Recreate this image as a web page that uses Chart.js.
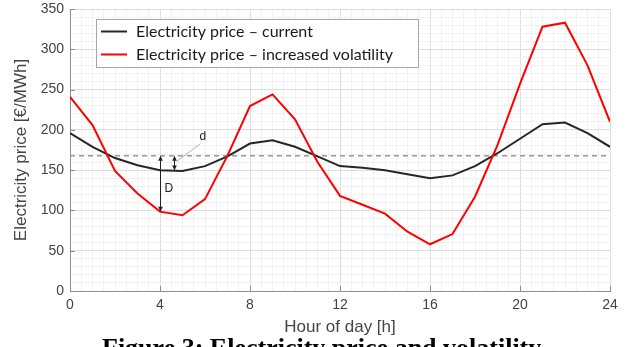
<!DOCTYPE html>
<html>
<head>
<meta charset="utf-8">
<script src="https://cdn.jsdelivr.net/npm/chart.js@4"></script>
<style>
html,body{margin:0;padding:0;background:#fff;}
#wrap{width:633px;height:347px;position:relative;overflow:hidden;}
</style>
</head>
<body>
<div id="wrap"><canvas id="c" width="633" height="347"></canvas></div>
<script>
// ---- data ----
const hours = [0,1,2,3,4,5,6,7,8,9,10,11,12,13,14,15,16,17,18,19,20,21,22,23,24];
const priceCurrent = [196,179,165,156,150,149,155,167,183,187,179,167,155,153,150,145,140,143.5,155,171,189,207,209,196,179];
const priceVolatile = [241,206,149,121,98.5,94,114,168,229.5,244,213,160,118,107,96,73.6,58,70.7,117,181,257,328,333,280,210];
const refLevel = 168;
const seriesNames = ['Electricity price \u2013 current','Electricity price \u2013 increased volatility'];
const xTickLabels = [0,4,8,12,16,20,24];
const yTickLabels = [0,50,100,150,200,250,300,350];
const gapMarks = [
  {label:'D', hour:4.0, from:refLevel, to:98.5},
  {label:'d', hour:4.6, from:refLevel, to:149.5}
];
const captionText = 'Figure 3: Electricity price and volatility';

const toXY = (xs, ys) => xs.map((x,i)=>({x:x, y:ys[i]}));

function drawArrowHead(ctx, x, y, dir){ // dir: +1 pointing down, -1 pointing up
  ctx.beginPath();
  ctx.moveTo(x, y);
  ctx.lineTo(x-2.3, y - dir*5);
  ctx.lineTo(x+2.3, y - dir*5);
  ctx.closePath();
  ctx.fill();
}

const decorPlugin = {
  id:'decor',
  afterDatasetsDraw(chart){
    const ctx = chart.ctx, xs = chart.scales.x, ys = chart.scales.y, a = chart.chartArea;
    ctx.save();
    // inward tick marks on axes
    ctx.strokeStyle = '#8a8a8a'; ctx.lineWidth = 1;
    xTickLabels.forEach(v=>{
      const px = Math.round(xs.getPixelForValue(v))+0.5;
      ctx.beginPath(); ctx.moveTo(px, a.bottom); ctx.lineTo(px, a.bottom-5); ctx.stroke();
    });
    yTickLabels.forEach(v=>{
      const py = Math.round(ys.getPixelForValue(v))+0.5;
      ctx.beginPath(); ctx.moveTo(a.left, py); ctx.lineTo(a.left+5, py); ctx.stroke();
    });
    // gap arrows
    ctx.strokeStyle = '#222'; ctx.fillStyle = '#222'; ctx.lineWidth = 1;
    gapMarks.forEach(m=>{
      const px = Math.round(xs.getPixelForValue(m.hour))+0.5;
      const y1 = ys.getPixelForValue(m.from), y2 = ys.getPixelForValue(m.to);
      ctx.beginPath(); ctx.moveTo(px, y1+2); ctx.lineTo(px, y2-2); ctx.stroke();
      drawArrowHead(ctx, px, y1, -1);
      drawArrowHead(ctx, px, y2, 1);
      ctx.font = '12px "Liberation Sans", Arial, sans-serif';
      ctx.textBaseline = 'middle'; ctx.textAlign = 'left';
      if (m.label === 'D') {
        ctx.fillText(m.label, px+4, (y1+y2)/2 + 5);
      } else {
        ctx.strokeStyle = '#b0b0b0';
        ctx.beginPath(); ctx.moveTo(px+2, y1+6); ctx.lineTo(px+26, y1-12); ctx.stroke();
        ctx.fillText(m.label, px+25, y1-19);
        ctx.strokeStyle = '#222';
      }
    });
    // legend box
    const lx = 96.5, ly = 19.5, lw = 322, lh = 48;
    ctx.fillStyle = '#fff'; ctx.fillRect(lx, ly, lw, lh);
    ctx.strokeStyle = '#a6a6a6'; ctx.lineWidth = 1; ctx.strokeRect(lx, ly, lw, lh);
    const ds = chart.data.datasets;
    const rows = [31.5, 54.5];
    ctx.font = '16px Lato, "Open Sans", sans-serif';
    ctx.textBaseline = 'middle'; ctx.textAlign = 'left';
    [0,1].forEach(i=>{
      ctx.strokeStyle = ds[i].borderColor; ctx.lineWidth = 2;
      ctx.beginPath(); ctx.moveTo(101, rows[i]); ctx.lineTo(127, rows[i]); ctx.stroke();
      ctx.fillStyle = '#1a1a1a';
      ctx.fillText(ds[i].label, 136, rows[i]+0.5);
    });
    ctx.restore();
  },
  afterDraw(chart){
    const ctx = chart.ctx;
    ctx.save();
    ctx.font = 'bold 26px "Liberation Serif", "Times New Roman", serif';
    ctx.fillStyle = '#000'; ctx.textAlign = 'left'; ctx.textBaseline = 'alphabetic';
    ctx.fillText(captionText, 102, 356);
    ctx.restore();
  }
};

const axisFont = {family:'"Liberation Sans", Arial, sans-serif', size:14};
const titleFont = {family:'"Liberation Sans", Arial, sans-serif', size:17};

new Chart(document.getElementById('c').getContext('2d'), {
  type:'line',
  data:{
    datasets:[
      {label:seriesNames[0], data:toXY(hours, priceCurrent), borderColor:'#262626', borderWidth:2, pointRadius:0, tension:0, order:1},
      {label:seriesNames[1], data:toXY(hours, priceVolatile), borderColor:'#ff0000', borderWidth:2, pointRadius:0, tension:0, order:0},
      {label:'reference', data:toXY([hours[0], hours[hours.length-1]], [refLevel, refLevel]), borderColor:'#999999', borderWidth:1.5, borderDash:[5,4], pointRadius:0, order:2}
    ]
  },
  options:{
    responsive:false, animation:false, devicePixelRatio:1,
    layout:{padding:{top:9, right:23, left:0, bottom:0}},
    plugins:{legend:{display:false}, tooltip:{enabled:false}},
    scales:{
      x:{
        type:'linear', min:0, max:24,
        afterFit(s){ s.height = 56; s.paddingLeft = 0; s.paddingRight = 0; },
        ticks:{stepSize:0.5, autoSkip:false, maxRotation:0, padding:6, color:'#444', font:axisFont,
          callback:(v)=> xTickLabels.includes(v) ? String(v) : ''},
        grid:{drawTicks:false, color:(c)=> (c.tick && xTickLabels.includes(c.tick.value)) ? '#dedede' : '#f1f1f1'},
        border:{display:true, color:'#8f8f8f', width:1},
        title:{display:true, text:'Hour of day [h]', color:'#444', font:titleFont, padding:{top:0, bottom:9}}
      },
      y:{
        type:'linear', min:0, max:350,
        afterFit(s){ s.width = 70; s.paddingTop = 0; s.paddingBottom = 0; },
        ticks:{stepSize:10, autoSkip:false, padding:6, color:'#444', font:axisFont,
          callback:(v)=> yTickLabels.includes(v) ? String(v) : ''},
        grid:{drawTicks:false, color:(c)=> (c.tick && yTickLabels.includes(c.tick.value)) ? '#dedede' : '#f1f1f1'},
        border:{display:true, color:'#8f8f8f', width:1},
        title:{display:true, text:'Electricity price [\u20AC/MWh]', color:'#444', font:titleFont, padding:{top:11, bottom:0}}
      }
    }
  },
  plugins:[decorPlugin]
});
</script>
</body>
</html>
